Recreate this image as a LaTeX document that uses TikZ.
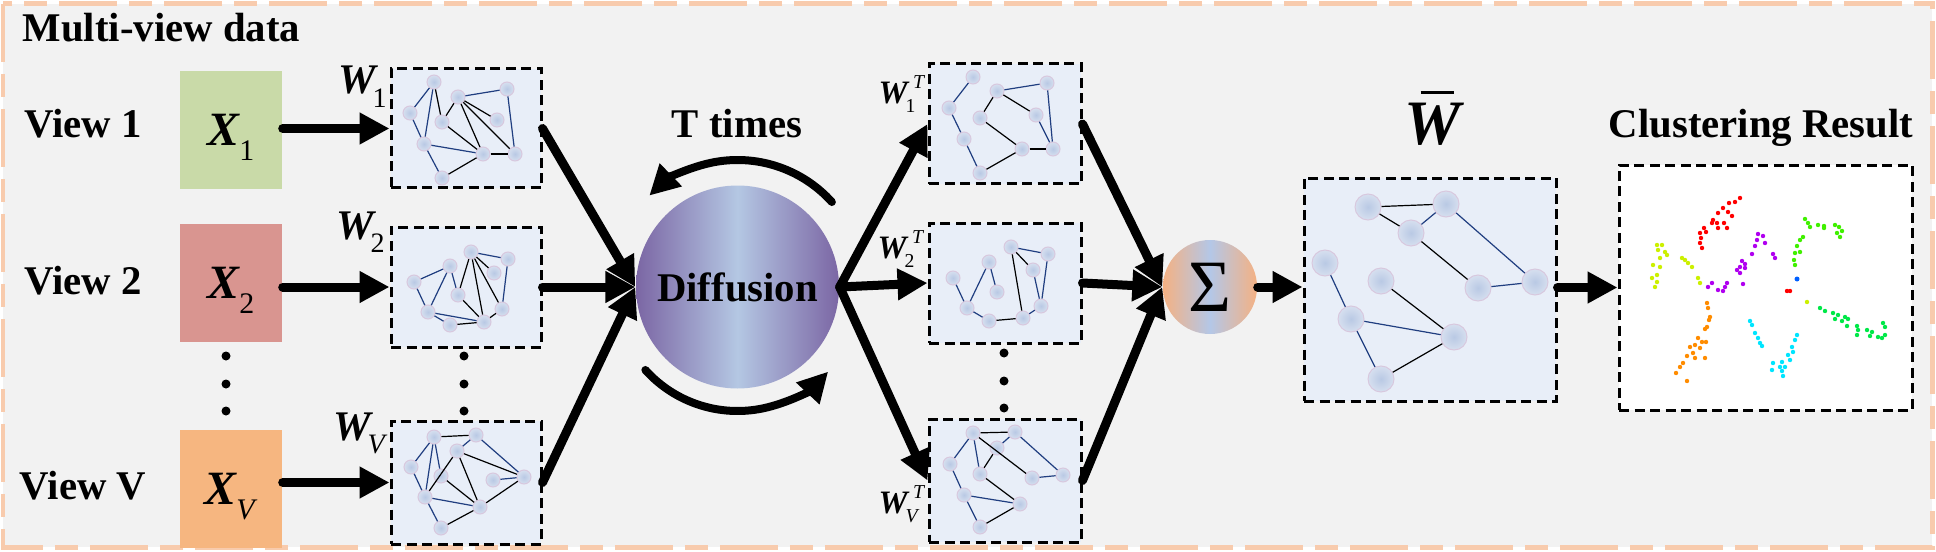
\documentclass[tikz,border=0pt]{standalone}
\usepackage{fontspec}
\setmainfont{Liberation Serif}
\usetikzlibrary{arrows.meta}

\definecolor{bgfill}{HTML}{F2F2F2}
\definecolor{borderc}{HTML}{F8CBAD}
\definecolor{xone}{HTML}{C9DAA8}
\definecolor{xtwo}{HTML}{D99590}
\definecolor{xvc}{HTML}{F6B680}
\definecolor{boxfill}{HTML}{E8EEF8}
\definecolor{diffedge}{HTML}{7B66A4}
\definecolor{diffmid}{HTML}{B4C7E3}
\definecolor{sumedge}{HTML}{F4B183}
\definecolor{summid}{HTML}{B4C7E7}
\definecolor{gnodein}{HTML}{B9C9E4}
\definecolor{gnodeout}{HTML}{D6DFEF}
\definecolor{gnodeline}{HTML}{D8C8DE}
\definecolor{edgeblue}{HTML}{203E80}
\definecolor{cred}{HTML}{FF0000}
\definecolor{cyg}{HTML}{CCF000}
\definecolor{cpur}{HTML}{B000F0}
\definecolor{cgrn}{HTML}{40F000}
\definecolor{csgr}{HTML}{00E848}
\definecolor{corg}{HTML}{FF8C00}
\definecolor{ccya}{HTML}{00E5FF}
\definecolor{cblu}{HTML}{0060FF}

\newcommand{\xmat}[2]{{\fontsize{13.6}{14}\selectfont\bfseries\itshape #1}\raisebox{-4.2pt}[0pt][0pt]{\fontsize{8.5}{9}\selectfont #2}}
\newcommand{\wmat}[1]{{\fontsize{12}{13}\selectfont\bfseries\itshape W}\kern-1pt\raisebox{-3.7pt}[0pt][0pt]{\fontsize{8}{9}\selectfont #1}}
\newcommand{\wtmat}[1]{{\fontsize{9.3}{10}\selectfont\bfseries\itshape W}\kern-0.6pt\rlap{\raisebox{-2.7pt}[0pt][0pt]{\fontsize{5.6}{6}\selectfont #1}}\kern2.1pt\raisebox{4.2pt}{\fontsize{5.6}{6}\selectfont\itshape T}}
\newcommand{\wbarlab}{{\fontsize{18}{20}\selectfont\bfseries\itshape\rlap{\kern0.25em\rule[0.8em]{0.52em}{0.85pt}}W}}

\tikzset{
  headtext/.style={font=\fontsize{11.6}{14}\selectfont\bfseries, inner sep=0},
  vbox/.style={minimum width=10.2mm, minimum height=11.8mm, inner sep=0},
  mbox/.style={draw, line width=0.3mm, dash pattern=on 1mm off 0.55mm, fill=boxfill, inner sep=0},
  gnode/.style={circle, inner sep=0, minimum size=1.4mm, draw=gnodeline, line width=0.1mm, inner color=gnodein, outer color=gnodeout},
  gbig/.style={gnode, minimum size=2.6mm},
  gblue/.style={draw=edgeblue, line width=0.12mm},
  gblack/.style={draw=black, line width=0.12mm},
  flow/.style={line width=0.9mm, line cap=round, -{Triangle[length=3mm,width=3mm]}},
}

\begin{document}
\begin{tikzpicture}[x=0.1mm, y=-0.1mm]
\useasboundingbox (0,0) rectangle (1936,551);
\draw[borderc, line width=0.5mm, fill=bgfill, dash pattern=on 5.8mm off 1.2mm on 2.3mm off 1.2mm] (3,4) rectangle (1932,547);

\node[headtext, anchor=base west] (mvd) at (22,42) {Multi-view data};
\node[headtext, anchor=base] (v1) at (83,137) {View 1};
\node[headtext, anchor=base] (v2) at (83,294) {View 2};
\node[headtext, anchor=base] (vv) at (83,499) {View V};

\node[vbox, fill=xone] (x1) at (231,130) {\xmat{X}{1}};
\node[vbox, fill=xtwo] (x2) at (231,283) {\xmat{X}{2}};
\node[vbox, fill=xvc] (xv) at (231,489) {\xmat{X}{\textit{V}}};
\foreach \y in {356,384,411} \fill (226,\y) circle[radius=0.45mm];

\node[mbox, minimum width=15mm, minimum height=11.9mm] (w1) at (466,128.5) {};
\node[mbox, minimum width=15mm, minimum height=12mm] (w2) at (466,287) {};
\node[mbox, minimum width=15mm, minimum height=12.3mm] (wv) at (466,482.5) {};
\foreach \y in {356,384,411} \fill (464,\y) circle[radius=0.45mm];
\node[anchor=base west, inner sep=0] (lw1) at (338,94) {\wmat{1}};
\node[anchor=base west, inner sep=0] (lw2) at (336,239) {\wmat{2}};
\node[anchor=base west, inner sep=0] (lwv) at (333,440) {\wmat{\textit{V}}};

\foreach \n/\x/\y in {a/434/82,b/507/89,c/458/97,d/410/113,e/442/122,f/497/120,g/424/144,h/483/154,i/515/154,j/442/178}
  \node[gnode] (w1\n) at (\x,\y) {};
\foreach \s/\t in {a/d,d/g,c/b,b/i,g/h,g/j,a/g}
  \draw[gblue] (w1\s) -- (w1\t);
\foreach \s/\t in {a/e,c/e,c/f,c/h,c/i,e/h,h/i,j/h}
  \draw[gblack] (w1\s) -- (w1\t);

\foreach \n/\x/\y in {p/471/252,q/508/259,r/450/266,s/494/273,t/414/282,u/458/295,v/502/309,w/428/312,x/484/322,y/450/325}
  \node[gnode] (w2\n) at (\x,\y) {};
\foreach \s/\t in {t/r,r/w,r/u,t/w,p/q,q/v,w/x,w/y}
  \draw[gblue] (w2\s) -- (w2\t);
\foreach \s/\t in {p/u,p/x,p/v,p/s,u/x,y/x,x/v}
  \draw[gblack] (w2\s) -- (w2\t);

\foreach \n/\x/\y in {a/434/437,b/476/435,c/457/451,d/411/467,e/441/476,f/493/480,g/524/477,h/425/497,i/480/507,j/441/528}
  \node[gnode] (wv\n) at (\x,\y) {};
\foreach \s/\t in {a/d,a/e,a/h,b/c,b/g,f/g,h/i,h/j,d/h}
  \draw[gblue] (wv\s) -- (wv\t);
\foreach \s/\t in {a/b,c/g,c/i,c/h,e/i,j/i,i/g}
  \draw[gblack] (wv\s) -- (wv\t);

\node[circle, minimum size=20.3mm, inner sep=0, left color=diffedge, right color=diffedge, middle color=diffmid, headtext] (diff) at (737.5,287) {Diffusion};
\node[headtext, anchor=base] (tt) at (737,137) {T times};
\draw[line width=0.8mm, line cap=round, -{Triangle[length=3mm,width=3mm]}] ([shift={(42:12.7mm)}]diff.center) arc[start angle=42, end angle=134, radius=12.7mm];
\draw[line width=0.8mm, line cap=round, -{Triangle[length=3mm,width=3mm]}] ([shift={(222:12.4mm)}]diff.center) arc[start angle=222, end angle=317, radius=12.4mm];

\node[mbox, minimum width=15.2mm, minimum height=12mm] (wt1) at (1005,124) {};
\node[mbox, minimum width=15.2mm, minimum height=12mm] (wt2) at (1005,283) {};
\node[mbox, minimum width=15.2mm, minimum height=12.3mm] (wtv) at (1005,480.5) {};
\foreach \y in {353,381,408} \fill (1004,\y) circle[radius=0.45mm];
\node[anchor=base west, inner sep=0] (lwt1) at (878,103) {\wtmat{1}};
\node[anchor=base west, inner sep=0] (lwt2) at (877,258) {\wtmat{2}};
\node[anchor=base west, inner sep=0] (lwtv) at (878,513) {\wtmat{\textit{V}}};

\foreach \n/\x/\y in {a/973/77,b/1047/83,c/997/91,d/949/108,e/980/118,f/1036/115,g/964/139,h/1022/149,i/1053/149,j/980/173}
  \node[gnode] (wt1\n) at (\x,\y) {};
\foreach \s/\t in {a/d,d/g,g/j,c/b,b/i,f/i}
  \draw[gblue] (wt1\s) -- (wt1\t);
\foreach \s/\t in {c/e,c/f,e/h,h/i,j/h}
  \draw[gblack] (wt1\s) -- (wt1\t);

\foreach \n/\x/\y in {p/1011/247,q/1048/254,r/989/262,s/1033/270,t/953/278,u/997/292,v/1041/306,w/967/308,x/1023/318,y/989/321}
  \node[gnode] (wt2\n) at (\x,\y) {};
\foreach \s/\t in {p/q,q/v,t/w,w/r,r/u,w/y,x/v,s/v}
  \draw[gblue] (wt2\s) -- (wt2\t);
\foreach \s/\t in {p/s,p/x,y/x}
  \draw[gblack] (wt2\s) -- (wt2\t);

\foreach \n/\x/\y in {a/973/433,b/1015/432,c/997/448,d/950/464,e/980/474,f/1032/478,g/1063/475,h/964/495,i/1020/504,j/980/527}
  \node[gnode] (wtv\n) at (\x,\y) {};
\foreach \s/\t in {a/d,a/e,b/c,b/g,f/g,d/h,h/i,h/j}
  \draw[gblue] (wtv\s) -- (wtv\t);
\foreach \s/\t in {a/b,a/f,c/e,e/i,j/i}
  \draw[gblack] (wtv\s) -- (wtv\t);

\node[circle, minimum size=9.4mm, inner sep=0, left color=sumedge, right color=sumedge, middle color=summid] (sum) at (1210,287) {\fontsize{21}{22}\selectfont Σ};

\node[mbox, minimum width=25.2mm, minimum height=22.3mm] (wb) at (1430,289.5) {};
\node[anchor=base, inner sep=0] (lwb) at (1433,145) {\wbarlab};
\foreach \n/\x/\y in {a/1368/207,b/1446/204,c/1411/233,d/1325/263,e/1381/281,f/1478/288,g/1535/282,h/1351/319,i/1454/337,j/1381/379}
  \node[gbig] (wb\n) at (\x,\y) {};
\foreach \s/\t in {c/b,b/g,f/g,d/h,h/i,h/j}
  \draw[gblue] (wb\s) -- (wb\t);
\foreach \s/\t in {a/b,a/c,c/f,e/i,j/i}
  \draw[gblack] (wb\s) -- (wb\t);

\node[mbox, fill=white, minimum width=29.3mm, minimum height=24.5mm] (res) at (1765.5,287.5) {};
\node[headtext, anchor=base] (lres) at (1761,137) {Clustering Result};

\foreach \x/\y in {1740/198,1735/202,1729/203,1723/208,1728/212,1732/216,1718/213,1713/220,1717/223,1724/223,1727/228,1718/228,1712/223,1704/228,1700/233,1706/232,1701/238,1700/243,1702/248,1787/291,1790/291}
  \fill[cred] (\x,\y) circle[radius=0.22mm];
\foreach \x/\y in {1657/245,1662/245,1658/250,1665/252,1667/255,1660/258,1653/265,1660/267,1657/275,1652/278,1657/282,1655/287,1682/258,1685/260,1688/263,1692/267,1698/278,1700/283,1807/302}
  \fill[cyg] (\x,\y) circle[radius=0.22mm];
\foreach \x/\y in {1758/234,1763/236,1757/240,1765/243,1755/246,1752/254,1773/254,1775/258,1742/261,1745/264,1740/267,1737/270,1745/268,1740/273,1743/284,1727/283,1725/287,1723/291,1718/290,1712/283,1708/287}
  \fill[cpur] (\x,\y) circle[radius=0.22mm];
\foreach \x/\y in {1805/219,1808/223,1810/227,1818/225,1824/226,1824/228,1835/225,1839/227,1842/231,1837/233,1840/237,1803/237,1800/240,1797/246,1800/252,1795/253,1794/260,1795/265}
  \fill[cgrn] (\x,\y) circle[radius=0.22mm];
\foreach \x/\y in {1820/308,1825/311,1833/313,1838/315,1835/319,1842/321,1845/317,1848/319,1847/326,1857/326,1858/330,1857/335,1867/330,1872/332,1870/336,1878/337,1882/338,1885/335,1885/327,1883/323}
  \fill[csgr] (\x,\y) circle[radius=0.22mm];
\foreach \x/\y in {1707/303,1708/308,1710/317,1709/320,1707/327,1705/329,1698/338,1702/342,1706/342,1695/345,1690/347,1700/348,1693/353,1695/358,1705/358,1687/356,1683/363,1680/367,1676/373,1687/381}
  \fill[corg] (\x,\y) circle[radius=0.22mm];
\foreach \x/\y in {1750/321,1752/325,1755/333,1758/338,1760/343,1762/346,1797/335,1795/340,1792/347,1793/352,1788/355,1790/360,1782/362,1773/363,1780/367,1785/367,1772/370,1782/371,1783/376}
  \fill[ccya] (\x,\y) circle[radius=0.22mm];
\fill[cblu] (1797,279) circle[radius=0.25mm];

\draw[flow] (x1.east |- w1.west) -- (w1.west);
\draw[flow] (x2.east |- w2.west) -- (w2.west);
\draw[flow] (xv.east |- wv.west) -- (wv.west);
\foreach \b in {w1,w2,wv} \draw[flow] (\b.east) -- (diff.west);
\foreach \b in {wt1,wt2,wtv} \draw[flow] (diff.east) -- (\b.west);
\foreach \b in {wt1,wt2,wtv} \draw[flow] (\b.east) -- (sum.west);
\draw[flow] (sum.east) -- (sum.east -| wb.west);
\draw[flow] (wb.east |- res.west) -- (res.west);
\end{tikzpicture}
\end{document}
